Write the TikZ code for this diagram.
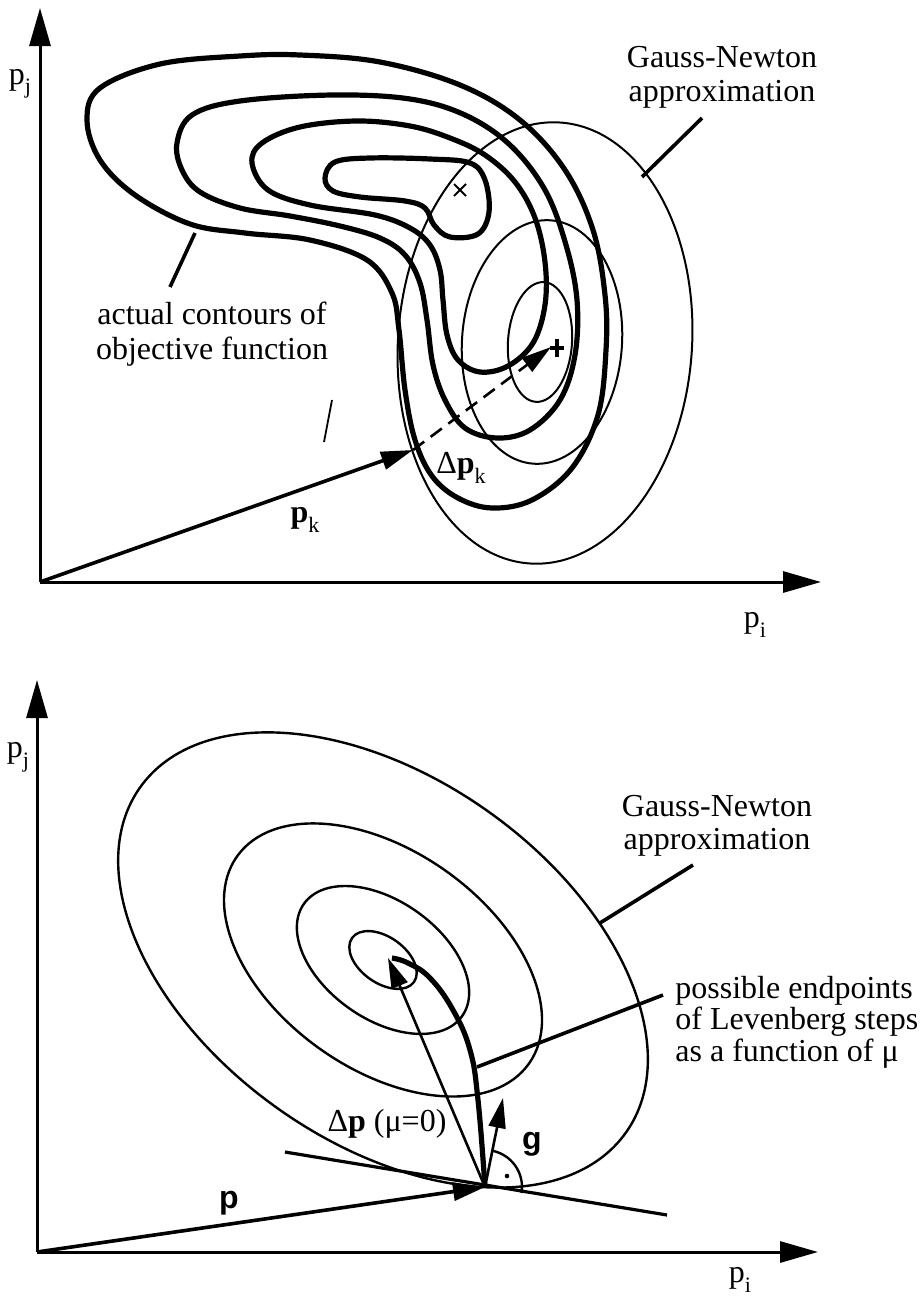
\documentclass[tikz,border=0pt]{standalone}
\usepackage{fontspec}
\setmainfont{Liberation Serif}
\newfontfamily\hsans{Liberation Sans}
\usetikzlibrary{arrows.meta}
\newcommand{\sbs}[1]{\raisebox{-0.3em}{\fontsize{11}{11}\selectfont #1}}
\begin{document}
\begin{tikzpicture}[x=0.5pt,y=-0.5pt,
  axis/.style={line width=1.5pt,-{Triangle[length=19pt,width=10.5pt]}},
  vec/.style={line width=1.8pt,-{Triangle[length=16pt,width=9pt]}},
  vecthin/.style={line width=1.3pt,-{Triangle[length=15pt,width=8.5pt]}},
  contour/.style={line width=2.6pt},
  gn/.style={line width=1pt},
  gnb/.style={line width=1.2pt},
  leader/.style={line width=1.8pt},
  lbl/.style={font=\fontsize{16}{17}\selectfont, inner sep=0pt},
]
\useasboundingbox (0,0) rectangle (921,1301);

% ================= TOP PANEL =================
\coordinate (O1) at (40,582);
\coordinate (Y1) at (40,8);
\coordinate (X1) at (821,582);
\draw[axis] (O1) -- (Y1);
\draw[axis] (O1) -- (X1);
\node[lbl] (pj1) at (20,84) {p\sbs{j}};
\node[lbl] (pi1) at (755,625) {p\sbs{i}};

% thick contours of the objective function
\draw[contour] plot[smooth cycle, tension=0.6] coordinates {
 (87,120) (100,88) (160,64) (240,56) (300,55) (380,62) (460,85) (520,120)
 (565,170) (593,230) (605,295) (606,350) (598,415) (572,468) (532,500)
 (492,508) (458,498) (432,476) (415,440) (405,390) (399,330) (392,293)
 (367,260) (310,240) (245,233) (190,224) (135,195) (100,160)};
\draw[contour] plot[smooth cycle, tension=0.6] coordinates {
 (177,143) (192,115) (240,101) (333,95) (410,99) (465,115) (510,145)
 (545,190) (566,245) (577,300) (575,355) (560,400) (530,430) (497,438)
 (465,428) (445,400) (433,365) (427,320) (420,283) (405,255) (380,238)
 (340,226) (290,216) (240,208) (200,192) (182,170)};
\draw[contour] plot[smooth cycle, tension=0.6] coordinates {
 (252,163) (262,143) (300,127) (357,121) (410,126) (450,138) (485,155)
 (515,182) (535,218) (545,262) (545,305) (533,343) (508,366) (480,372)
 (458,360) (447,335) (443,300) (440,270) (430,245) (410,228) (375,215)
 (310,205) (268,190)};
\draw[contour] plot[smooth cycle, tension=0.6] coordinates {
 (325,178) (335,162) (370,158) (430,159) (470,163) (485,180) (489,212)
 (478,234) (450,237) (434,225) (425,208) (405,201) (360,197) (333,191)};

% Gauss-Newton approximation ellipses
\coordinate (GC1) at (545,343);
\coordinate (GC2) at (542,342);
\coordinate (GC3) at (540,342);
\draw[gn, rotate around={-4:(GC1)}] (GC1) ellipse [x radius=147, y radius=221];
\draw[gn, rotate around={-4:(GC2)}] (GC2) ellipse [x radius=80, y radius=122];
\draw[gn, rotate around={-4:(GC3)}] (GC3) ellipse [x radius=32, y radius=60];

% minimum marks
\coordinate (Xm) at (460,190);
\draw[line width=1pt] (Xm) ++(-6,-6) -- ++(12,12) (Xm) ++(-6,6) -- ++(12,-12);
\coordinate (Pm) at (557,348);
\draw[line width=1.6pt] (Pm) ++(-7,0) -- ++(14,0) (Pm) ++(0,-9) -- ++(0,18);

% vectors
\coordinate (PK) at (413,450);
\coordinate (DK) at (551,347);
\draw[vec] (O1) -- (PK);
\draw[vecthin, dash pattern=on 7pt off 4pt] (PK) -- (DK);
\node[lbl] (pk) at (305,520) {\textbf{p}\sbs{k}};
\node[lbl] (dpk) at (461,468) {Δ\textbf{p}\sbs{k}};

% labels with leaders
\node[lbl, align=center, anchor=north, font=\fontsize{16}{17}\selectfont] (gn1) at (722,46) {Gauss-Newton\\approximation};
\coordinate (g1a) at (642,177);
\coordinate (g1b) at (702,118);
\draw[leader] (g1a) -- (g1b);
\node[lbl, align=center, anchor=north, font=\fontsize{16}{17.5}\selectfont] (ac) at (212,302) {actual contours of\\objective function};
\coordinate (a1a) at (195,233);
\coordinate (a1b) at (170,287);
\draw[leader] (a1a) -- (a1b);
\coordinate (s1) at (332,400);
\coordinate (s2) at (324,442);
\draw[line width=0.9pt] (s1) -- (s2);

% ================= BOTTOM PANEL =================
\coordinate (O2) at (37,1252);
\coordinate (Y2) at (37,680);
\coordinate (X2) at (818,1252);
\draw[axis] (O2) -- (Y2);
\draw[axis] (O2) -- (X2);
\node[lbl] (pj2) at (18,757) {p\sbs{j}};
\node[lbl] (pi2) at (740,1280) {p\sbs{i}};

\coordinate (BC) at (383,960);
\foreach \a/\b in {298/182,179/109,97/59,38/23}
  \draw[gnb, rotate around={-35.4:(BC)}] (BC) ellipse [x radius=\a, y radius=\b];

\coordinate (P) at (485,1187);
\coordinate (T1) at (285,1152);
\coordinate (T2) at (667,1215);
\draw[line width=1.6pt] (T1) -- (T2);
\draw[vec] (O2) -- (P);
\node[lbl, font=\hsans\bfseries\fontsize{16}{17}\selectfont] (plab) at (229,1203) {p};

\coordinate (DC) at (388,958);
\draw[vecthin] (P) -- (DC);
\node[lbl] (dpl) at (387,1124) {Δ\textbf{p} (μ=0)};

\draw[line width=2.6pt] plot[smooth, tension=0.7] coordinates {
 (P) (478,1100) (470,1050) (453,1010) (430,978) (408,963) (392,958)};

\coordinate (G) at (503,1098);
\draw[vecthin] (P) -- (G);
\node[lbl, font=\hsans\bfseries\fontsize{16}{17}\selectfont] (glab) at (532,1144) {g};
\draw[line width=1.2pt] (P) ++(-78.6:37) arc[start angle=-78.6, end angle=9.4, radius=37];
\coordinate (dot) at (507,1176);
\fill (dot) circle[radius=2.3];

\node[lbl, align=center, anchor=north, font=\fontsize{16}{16.5}\selectfont] (gn2) at (717,795) {Gauss-Newton\\approximation};
\coordinate (g2a) at (600,923);
\coordinate (g2b) at (693,865);
\draw[leader] (g2a) -- (g2b);

\node[lbl, align=left, anchor=north west, font=\fontsize{16}{14.5}\selectfont] (lev) at (675,976) {possible endpoints\\of Levenberg steps\\as a function of μ};
\coordinate (l1) at (477,1067);
\coordinate (l2) at (663,995);
\draw[leader] (l1) -- (l2);
\end{tikzpicture}
\end{document}
